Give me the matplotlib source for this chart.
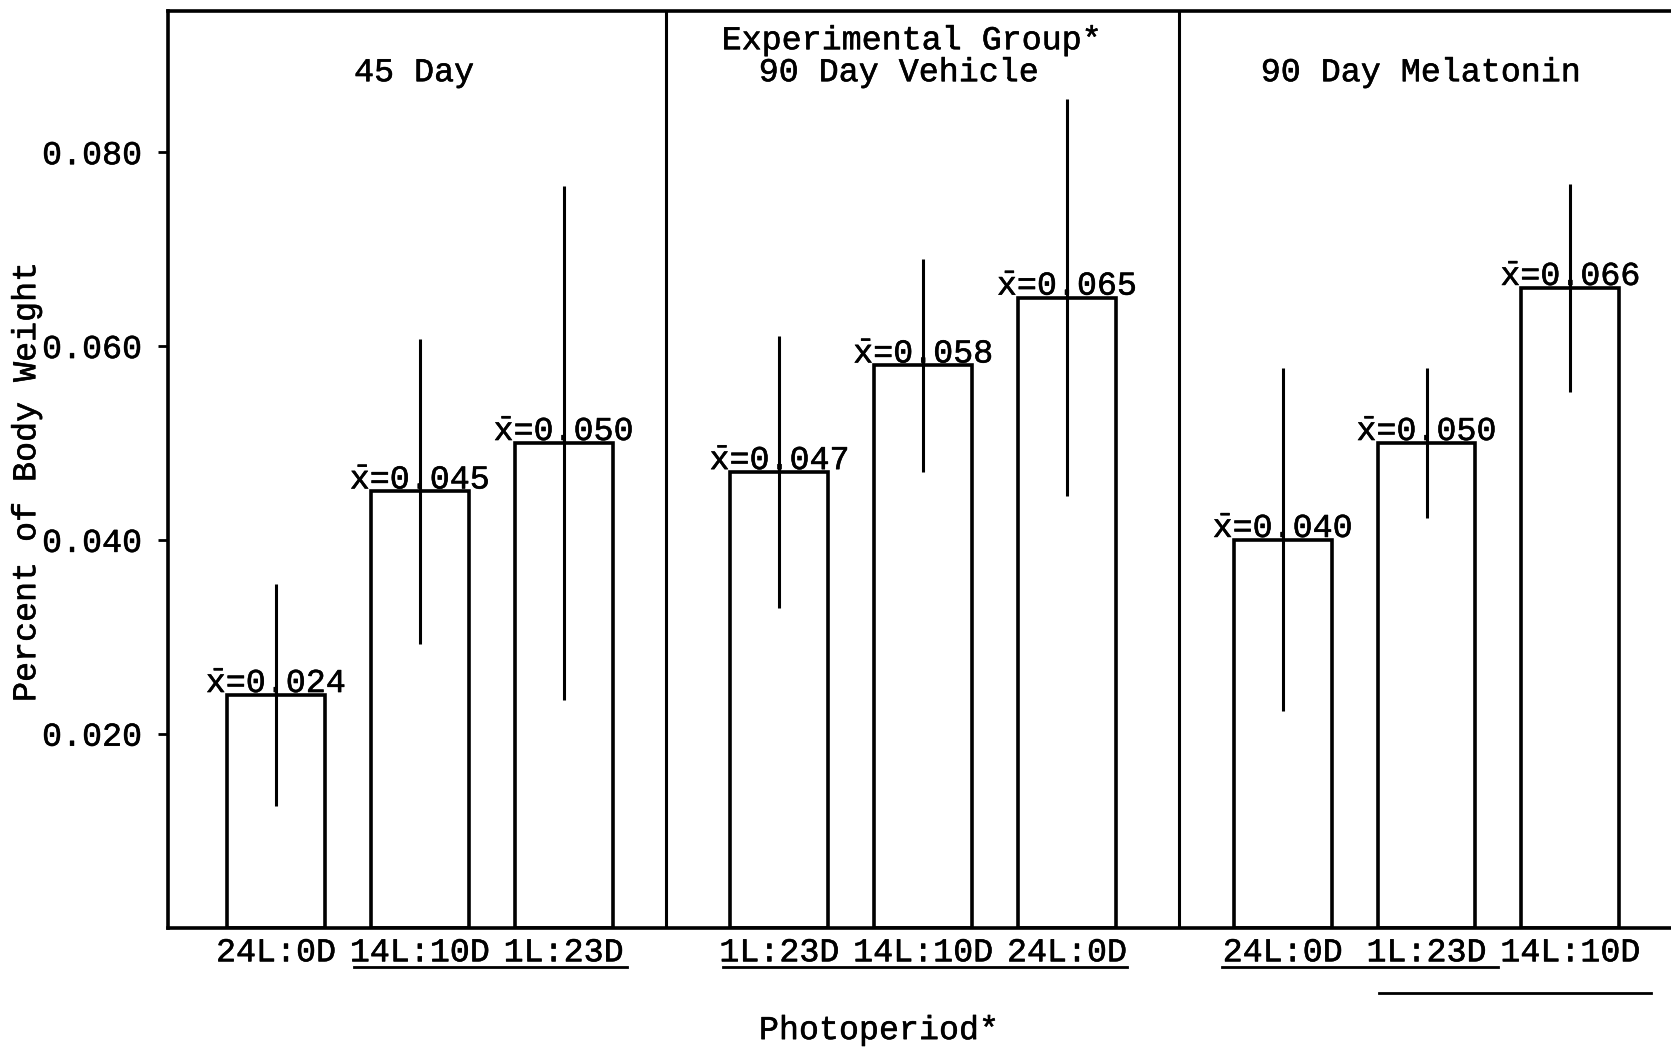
import numpy as np
import matplotlib
matplotlib.use('Agg')
import matplotlib.pyplot as plt
import matplotlib.transforms as mtransforms
import matplotlib.patheffects as pe
from matplotlib.text import Text

# data
group_names = ['45 Day', '90 Day Vehicle', '90 Day Melatonin']
overall_title = 'Experimental Group*'
photoperiods = ['24L:0D', '14L:10D', '1L:23D',
                '1L:23D', '14L:10D', '24L:0D',
                '24L:0D', '1L:23D', '14L:10D']
group_of_bar = [0, 0, 0, 1, 1, 1, 2, 2, 2]
means = [0.024, 0.045, 0.050, 0.047, 0.058, 0.065, 0.040, 0.050, 0.066]
spread = [0.0115, 0.0157, 0.0265, 0.0140, 0.0110, 0.0205, 0.0177, 0.0077, 0.0107]
yticks = [0.020, 0.040, 0.060, 0.080]
# bars joined by a line under the labels: (first bar, last bar, row)
underlines = [(1, 2, 0), (3, 5, 0), (6, 7, 0), (7, 8, 1)]

plt.rcParams['font.family'] = ['Liberation Mono', 'DejaVu Sans Mono']
plt.rcParams['font.size'] = 24
plt.rcParams['mathtext.fontset'] = 'custom'
plt.rcParams['mathtext.rm'] = 'Liberation Mono'

fig = plt.figure(figsize=(16.71, 10.48), dpi=100)
ax = fig.add_axes([0.1008, 0.1149, 0.8992, 0.8749])

# position of each bar: index inside its group plus a gap between groups
x = np.array([i - 3 * g + 3.5 * g for i, g in enumerate(group_of_bar)])

ax.bar(x, means, width=0.68, facecolor='white', edgecolor='black',
       linewidth=2.6, zorder=2)
ax.errorbar(x, means, yerr=spread, fmt='none', ecolor='black',
            elinewidth=2.2, capsize=0, zorder=3)

for xi, m in zip(x, means):
    ax.annotate(r'$\bar{\mathrm{x}}$=' + f'{m:.3f}', (xi, m), xytext=(0, 2),
                textcoords='offset points', ha='center', va='baseline', zorder=4)

# panel dividers
for xd in [2.71, 6.28]:
    ax.axvline(xd, color='black', lw=2.2, zorder=1)

# panel titles
title_x = [0.96, 4.33, 7.96]
for g, name in enumerate(group_names):
    ax.text(title_x[g], 0.0882, name, ha='center', va='center')
ax.text(4.42, 0.0915, overall_title, ha='center', va='center')

ax.set_xlim(-0.748, 9.70)
ax.set_ylim(0, 0.0946)

ax.set_yticks(yticks)
ax.set_yticklabels([f'{v:.3f}' for v in yticks])
ax.set_xticks(x)
ax.set_xticklabels(photoperiods)
ax.tick_params(axis='y', direction='out', length=7, width=2, pad=12)
ax.tick_params(axis='x', length=0, pad=7)

for side in ['left', 'bottom', 'top']:
    ax.spines[side].set_linewidth(2.6)
ax.spines['right'].set_visible(False)

ax.set_ylabel('Percent of Body Weight')
ax.yaxis.set_label_coords(-0.084, 0.486)

trans = mtransforms.blended_transform_factory(ax.transData, ax.transAxes)
row_y = [-0.043, -0.071]
ext_left = [0.46, 0.39, 0.42, 0.33]
ext_right = [0.44, 0.42, 0.50, 0.56]
for k, (first, last, row) in enumerate(underlines):
    ax.plot([x[first] - ext_left[k], x[last] + ext_right[k]], [row_y[row], row_y[row]],
            color='black', lw=2, transform=trans, clip_on=False)

fig.text(0.526, 0.0166, 'Photoperiod*', ha='center', va='center')

# slightly heavier strokes, like typewriter text
for t in fig.findobj(Text):
    t.set_path_effects([pe.withStroke(linewidth=0.4, foreground='black')])

fig.savefig('out.png', dpi=100, facecolor='white')
